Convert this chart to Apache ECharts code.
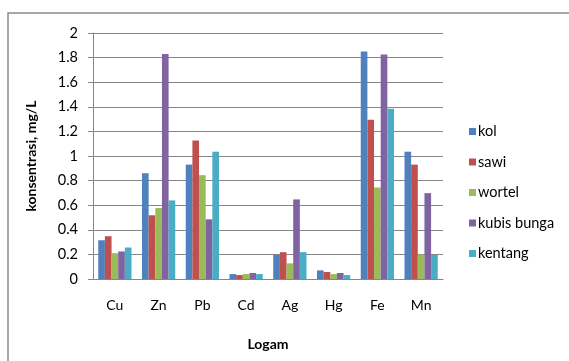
<!DOCTYPE html>
<html lang="en">
<head>
    <meta charset="UTF-8">
    <title>Konsentrasi logam</title>
    <script src="https://cdn.jsdelivr.net/npm/echarts@6/dist/echarts.min.js"></script>
</head>
<style>
    *{margin:0;padding:0;}
    html,body{width:100%;height:100%;overflow:hidden;background:#fff;}
    .container{width:569px;height:361px;}
</style>
<body>
<div class="container"></div>
<script>
    let categories=['Cu','Zn','Pb','Cd','Ag','Hg','Fe','Mn'];
    let kol=[0.315,0.86,0.93,0.04,0.197,0.07,1.85,1.035];
    let sawi=[0.348,0.518,1.127,0.032,0.218,0.057,1.294,0.93];
    let wortel=[0.21,0.577,0.844,0.04,0.127,0.04,0.744,0.2];
    let kubisBunga=[0.224,1.83,0.485,0.049,0.647,0.049,1.825,0.698];
    let kentang=[0.256,0.639,1.035,0.04,0.218,0.032,1.385,0.197];

    let names=['kol','sawi','wortel','kubis bunga','kentang'];
    let colors=['#4F81BD','#C0504D','#9BBB59','#8064A2','#4BACC6'];
    let values=[kol,sawi,wortel,kubisBunga,kentang];
    let font='Lato';

    let mycharts=echarts.init(document.querySelector('.container'));

    let series=names.map((name,i)=>({
        name,
        type:'bar',
        data:values[i],
        barGap:'0%',
        barCategoryGap:'24%',
        itemStyle:{color:colors[i]}
    }));

    let options={
        backgroundColor:'#fff',
        animation:false,
        color:colors,
        graphic:[{
            type:'rect',
            shape:{x:8,y:13,width:600,height:400},
            style:{fill:'none',stroke:'#8a8a8a',lineWidth:1.5}
        }],
        grid:{left:93,right:126,top:33,bottom:82},
        legend:{
            orient:'vertical',
            left:464,
            top:119,
            itemWidth:7,
            itemHeight:7,
            itemGap:15.5,
            icon:'rect',
            textStyle:{fontFamily:font,fontSize:14.5,color:'#000',padding:[0,0,0,-3]},
            data:names
        },
        xAxis:{
            type:'category',
            data:categories,
            name:'Logam',
            nameLocation:'middle',
            nameGap:58,
            nameTextStyle:{fontFamily:font,fontSize:14,fontWeight:'bold',color:'#000'},
            axisLine:{lineStyle:{color:'#868686'}},
            axisTick:{length:6,lineStyle:{color:'#868686'}},
            axisLabel:{fontFamily:font,fontSize:14,color:'#000',margin:19}
        },
        yAxis:{
            type:'value',
            min:0,
            max:2,
            interval:0.2,
            name:'konsentrasi, mg/L',
            nameLocation:'middle',
            nameGap:55,
            nameTextStyle:{fontFamily:font,fontSize:14,fontWeight:'bold',color:'#000'},
            axisLine:{show:true,lineStyle:{color:'#868686'}},
            axisTick:{show:true,length:5,lineStyle:{color:'#868686'}},
            axisLabel:{fontFamily:font,fontSize:14.5,color:'#000',margin:15,
                formatter:v=>String(Math.round(v*10)/10)},
            splitLine:{lineStyle:{color:'#868686',width:1}}
        },
        series
    };
    mycharts.setOption(options);
</script>
</body>
</html>
